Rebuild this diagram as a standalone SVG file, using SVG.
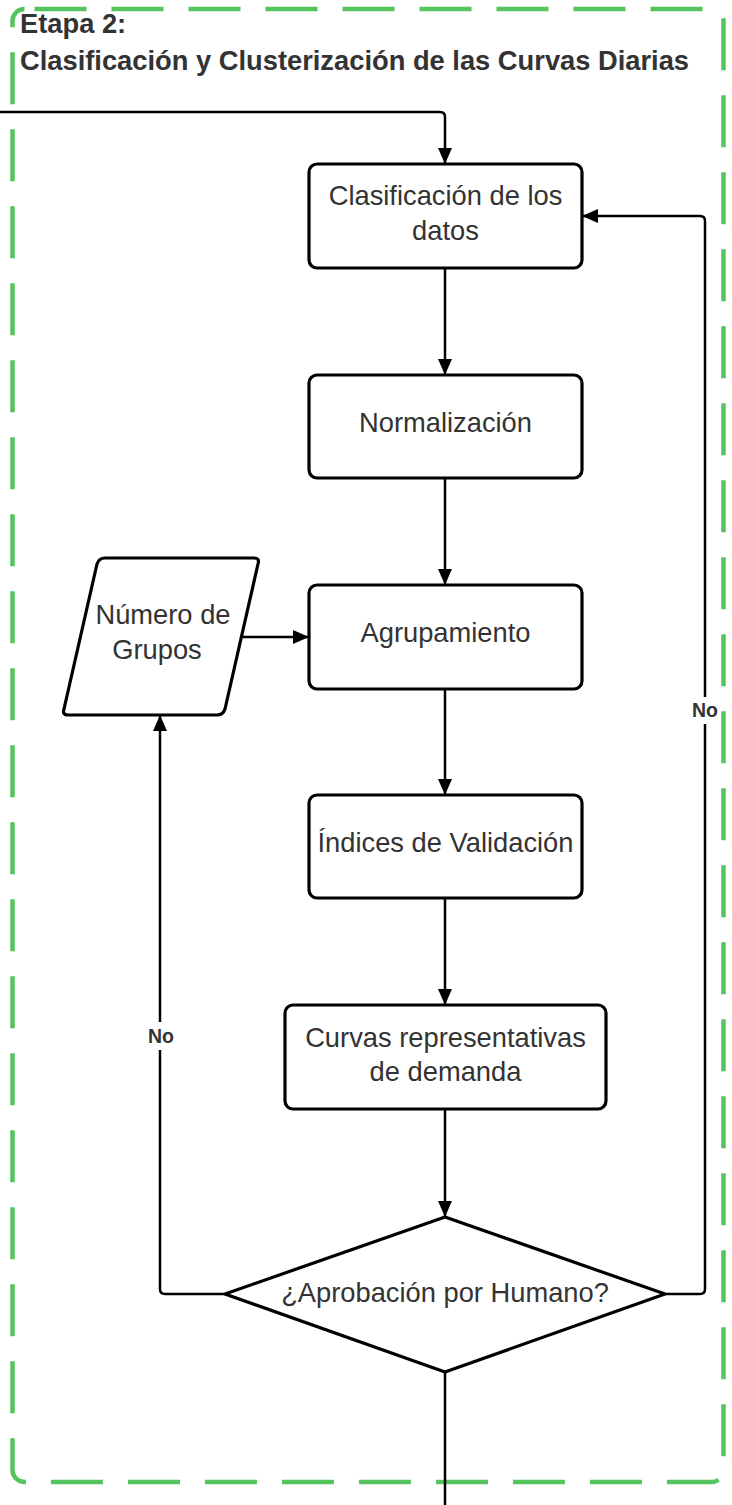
<svg xmlns="http://www.w3.org/2000/svg" width="732" height="1505" viewBox="0 0 732 1505">
<style>
.box{fill:#fff;stroke:#000;stroke-width:3.2;stroke-linejoin:round}
.t{font-family:"Liberation Sans",Arial,sans-serif;font-size:27.3px;fill:#333;text-anchor:middle}
.lbl{font-family:"Liberation Sans",Arial,sans-serif;font-size:19.5px;font-weight:bold;fill:#333;text-anchor:middle}
.title{font-family:"Liberation Sans",Arial,sans-serif;font-size:27.3px;font-weight:bold;fill:#333}
.c{fill:none;stroke:#000;stroke-width:2.5;stroke-linejoin:round}
</style>
<defs>
<marker id="ah" markerWidth="16" markerHeight="14" refX="15" refY="7" orient="auto" markerUnits="userSpaceOnUse">
<path d="M0,0 L16,7 L0,14 Z" fill="#000"/>
</marker>
</defs>
<rect id="frame" x="12.5" y="9" width="711" height="1473" rx="12" fill="none" stroke="#55c45e" stroke-width="4.5" stroke-dasharray="52 25" stroke-dashoffset="-10"/>
<g id="title">
<text class="title" x="20" y="33">Etapa 2:</text>
<text class="title" x="20" y="70">Clasificación y Clusterización de las Curvas Diarias</text>
</g>
<g id="connectors">
<path class="c" d="M0,112 H440 Q445,112 445,117 V163" marker-end="url(#ah)"/>
<path class="c" d="M445,268 V374" marker-end="url(#ah)"/>
<path class="c" d="M445,478 V584" marker-end="url(#ah)"/>
<path class="c" d="M445,689 V794" marker-end="url(#ah)"/>
<path class="c" d="M445,898 V1004" marker-end="url(#ah)"/>
<path class="c" d="M445,1109 V1216" marker-end="url(#ah)"/>
<path class="c" d="M243,637 H308" marker-end="url(#ah)"/>
<path class="c" d="M225,1294 H165 Q160,1294 160,1289 V1050 M160,1022 V716" marker-end="url(#ah)"/>
<path class="c" d="M665,1294 H700 Q705,1294 705,1289 V724 M705,697 V221 Q705,216 700,216 H583" marker-end="url(#ah)"/>
<path class="c" d="M445,1372 V1505"/>
<text class="lbl" x="161" y="1043">No</text>
<text class="lbl" x="705" y="717">No</text>
</g>
<g id="n1">
<rect class="box" x="309" y="164" width="273" height="104" rx="8"/>
<text class="t" x="445.5" y="205">Clasificación de los</text>
<text class="t" x="445.5" y="240">datos</text>
</g>
<g id="n2">
<rect class="box" x="309" y="375" width="273" height="103" rx="8"/>
<text class="t" x="445.5" y="432">Normalización</text>
</g>
<g id="n3">
<rect class="box" x="309" y="585" width="273" height="104" rx="8"/>
<text class="t" x="445.5" y="642">Agrupamiento</text>
</g>
<g id="n4">
<rect class="box" x="309" y="795" width="273" height="103" rx="8"/>
<text class="t" x="445.5" y="852">Índices de Validación</text>
</g>
<g id="n5">
<rect class="box" x="285" y="1005" width="321" height="104" rx="8"/>
<text class="t" x="445.5" y="1047">Curvas representativas</text>
<text class="t" x="445.5" y="1081">de demanda</text>
</g>
<g id="n6">
<path class="box" d="M105,558 H254 Q260,558 258,564 L225,709 Q223,715 217,715 H68 Q62,715 64,709 L97,564 Q99,558 105,558 Z"/>
<text class="t" x="163" y="624">Número de</text>
<text class="t" x="157" y="659">Grupos</text>
</g>
<g id="n7">
<path class="box" d="M445,1217 L665,1294 L445,1372 L225,1294 Z"/>
<text class="t" x="445" y="1302">¿Aprobación por Humano?</text>
</g>
</svg>
